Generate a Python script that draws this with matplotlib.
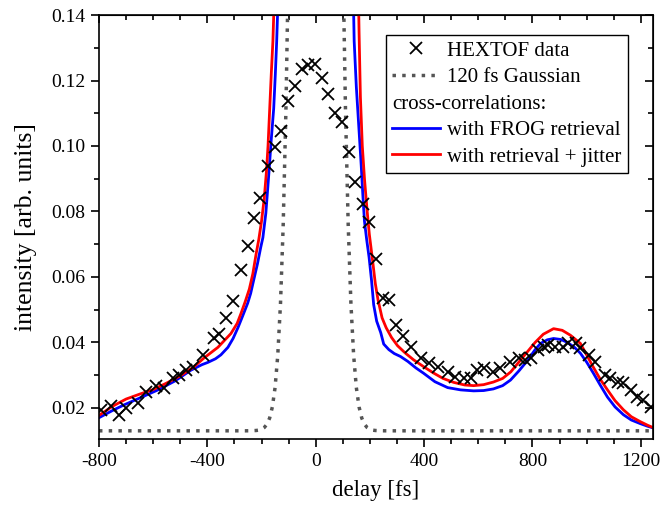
import matplotlib
matplotlib.use("Agg")
import matplotlib.pyplot as plt
from matplotlib.lines import Line2D
from matplotlib.ticker import MultipleLocator, FormatStrFormatter
import numpy as np

plt.rcParams['font.family'] = ['Liberation Serif', 'DejaVu Serif']
plt.rcParams['axes.unicode_minus'] = False

# HEXTOF measured points (delay in fs, intensity)
hextof_delay = [-793, -756, -726, -700, -656, -627, -590, -560, -527, -505, -479, -453,
                -417, -376, -358, -332, -306, -276, -251, -229, -206, -177, -152, -129,
                -104, -78, -52, -29, -4, 22, 44, 70, 96, 122, 144, 173, 196, 221, 247,
                269, 295, 321, 350, 387, 417, 450, 487, 516, 546, 572, 597, 620, 656,
                682, 719, 749, 774, 793, 819, 841, 859, 885, 911, 933, 959, 977, 1007,
                1032, 1069, 1088, 1114, 1136, 1162, 1187, 1209, 1239]
hextof_int = [0.0194, 0.0206, 0.0179, 0.0200, 0.0215, 0.0249, 0.0267, 0.0261, 0.0291,
              0.0300, 0.0315, 0.0324, 0.0361, 0.0415, 0.0427, 0.0476, 0.0525, 0.0621,
              0.0696, 0.0781, 0.0840, 0.0940, 0.0996, 0.1045, 0.1137, 0.1183, 0.1234,
              0.1246, 0.1249, 0.1207, 0.1158, 0.1100, 0.1072, 0.0981, 0.0889, 0.0824,
              0.0767, 0.0656, 0.0536, 0.0530, 0.0452, 0.0421, 0.0385, 0.0352, 0.0336,
              0.0324, 0.0309, 0.0294, 0.0291, 0.0291, 0.0315, 0.0321, 0.0309, 0.0321,
              0.0339, 0.0352, 0.0345, 0.0352, 0.0376, 0.0385, 0.0391, 0.0385, 0.0385,
              0.0397, 0.0397, 0.0382, 0.0361, 0.0339, 0.0300, 0.0291, 0.0279, 0.0276,
              0.0255, 0.0233, 0.0224, 0.0203]

# 120 fs Gaussian (dotted)
gauss_delay = [-800, -260, -240, -220, -210, -200, -190, -180, -170, -160, -150, -140,
               -130, -120, -110, -100, -90, -80, 0, 80, 90, 100, 110, 120, 130, 140,
               150, 160, 170, 180, 190, 200, 210, 220, 240, 260, 1250]
gauss_int = [0.013, 0.013, 0.01302, 0.0131, 0.01321, 0.0135, 0.0140, 0.0150, 0.0169,
             0.0203, 0.0262, 0.0361, 0.0518, 0.0758, 0.1107, 0.159, 0.2237, 0.305, 1.013,
             0.305, 0.2237, 0.159, 0.1107, 0.0758, 0.0518, 0.0361, 0.0262, 0.0203,
             0.0169, 0.0150, 0.0140, 0.0135, 0.01321, 0.0131, 0.01302, 0.013, 0.013]

# cross-correlation with FROG retrieval (blue)
frog_delay = [-800, -750, -708, -650, -582, -520, -461, -420, -398, -370, -350, -324,
              -305, -287, -270, -251, -240, -229, -215, -203, -195, -184, -173, -164,
              -155, -149, -144, -139, 0, 139, 142, 150, 156, 162, 168, 174, 180, 188,
              197, 206, 214, 225, 240, 251, 270, 290, 313, 340, 370, 398, 440, 487,
              535, 583, 620, 656, 690, 719, 750, 782, 810, 830, 855, 878, 905, 929,
              955, 977, 1000, 1025, 1050, 1077, 1105, 1136, 1165, 1198, 1225, 1245]
frog_int = [0.0170, 0.0192, 0.0209, 0.0230, 0.0255, 0.0282, 0.0315, 0.0332, 0.0339,
            0.0350, 0.0362, 0.0385, 0.0412, 0.0445, 0.0480, 0.0520, 0.0550, 0.0590,
            0.0640, 0.0690, 0.0720, 0.0795, 0.0915, 0.1020, 0.1115, 0.1220, 0.1320,
            0.145, 0.5, 0.145, 0.132, 0.118, 0.110, 0.102, 0.094, 0.085, 0.077,
            0.0715, 0.066, 0.059, 0.0515, 0.0465, 0.0430, 0.0395, 0.0378, 0.0366,
            0.0357, 0.0342, 0.0322, 0.0306, 0.0280, 0.0262, 0.0255, 0.0252, 0.0253,
            0.0258, 0.0268, 0.0285, 0.0313, 0.0345, 0.0378, 0.0397, 0.0408, 0.0412,
            0.0409, 0.0400, 0.0385, 0.0367, 0.0340, 0.0306, 0.0270, 0.0233, 0.0203,
            0.0179, 0.0163, 0.0152, 0.0144, 0.0139]

# cross-correlation with retrieval + jitter (red)
jitter_delay = [-800, -750, -700, -650, -600, -550, -500, -450, -413, -361, -313, -290,
                -276, -260, -245, -232, -220, -210, -200, -190, -182, -176, -170, -164,
                -158, -153, 0, 158, 160, 165, 172, 180, 190, 198, 210, 220, 230, 245,
                260, 280, 302, 330, 361, 400, 434, 470, 509, 550, 583, 620, 656, 690,
                720, 750, 780, 810, 840, 878, 910, 940, 977, 1000, 1025, 1050, 1077,
                1105, 1136, 1165, 1198, 1225, 1245]
jitter_int = [0.0177, 0.0205, 0.0227, 0.0242, 0.0256, 0.0276, 0.0298, 0.0325, 0.0352,
              0.0385, 0.0427, 0.0458, 0.0488, 0.0525, 0.0563, 0.0610, 0.0670, 0.0715,
              0.0770, 0.0840, 0.0920, 0.1000, 0.1110, 0.1220, 0.1320, 0.1450, 0.5,
              0.145, 0.135, 0.115, 0.100, 0.090, 0.080, 0.073, 0.065, 0.058, 0.053,
              0.0475, 0.0445, 0.0415, 0.0390, 0.0368, 0.0347, 0.0325, 0.0307, 0.0290,
              0.0278, 0.0270, 0.0268, 0.0271, 0.0279, 0.0290, 0.0310, 0.0340, 0.0370,
              0.0400, 0.0425, 0.0442, 0.0437, 0.0422, 0.0397, 0.0362, 0.0324, 0.0288,
              0.0255, 0.0222, 0.0194, 0.0173, 0.0158, 0.0147, 0.0140]

GAUSS_LS = (0, (1.0, 1.8))

fig = plt.figure(figsize=(6.62, 5.11), dpi=100)
ax = fig.add_axes([0.1495, 0.1409, 0.8369, 0.8297])

ax.plot(gauss_delay, gauss_int, color='#555555', lw=2.5, ls=GAUSS_LS)
ax.plot(frog_delay, frog_int, color='#0000ff', lw=2.0)
ax.plot(jitter_delay, jitter_int, color='#ff0000', lw=2.0)
ax.plot(hextof_delay, hextof_int, ls='none', marker='x', ms=9, mew=1.3, color='black')

ax.set_xlim(-800, 1245)
ax.set_ylim(0.0105, 0.14)
ax.xaxis.set_major_locator(MultipleLocator(400))
ax.xaxis.set_minor_locator(MultipleLocator(100))
ax.yaxis.set_major_locator(MultipleLocator(0.02))
ax.yaxis.set_minor_locator(MultipleLocator(0.01))
ax.yaxis.set_major_formatter(FormatStrFormatter('%.2f'))
ax.tick_params(which='both', direction='out', width=1.2, labelsize=14, pad=4)
ax.tick_params(which='major', length=6)
ax.tick_params(which='minor', length=3.5)
for sp in ax.spines.values():
    sp.set_linewidth(1.2)

# mirrored ticks pointing inward on top and right
top = ax.secondary_xaxis('top')
top.xaxis.set_major_locator(MultipleLocator(400))
top.xaxis.set_minor_locator(MultipleLocator(100))
top.tick_params(which='both', direction='in', width=1.2, labeltop=False)
top.tick_params(which='major', length=6)
top.tick_params(which='minor', length=3.5)
right = ax.secondary_yaxis('right')
right.yaxis.set_major_locator(MultipleLocator(0.02))
right.yaxis.set_minor_locator(MultipleLocator(0.01))
right.tick_params(which='both', direction='in', width=1.2, labelright=False)
right.tick_params(which='major', length=6)
right.tick_params(which='minor', length=3.5)

ax.set_xlabel('delay [fs]', fontsize=16.5, labelpad=7)
ax.set_ylabel('intensity [arb. units]', fontsize=18.5, labelpad=10)

h_data = Line2D([], [], ls='none', marker='x', ms=9, mew=1.3, color='black')
h_gauss = Line2D([], [], color='#555555', lw=2.5, ls=GAUSS_LS)
h_blank = Line2D([], [], ls='none')
h_frog = Line2D([], [], color='#0000ff', lw=2.0)
h_jit = Line2D([], [], color='#ff0000', lw=2.0)
leg = ax.legend([h_data, h_gauss, h_blank, h_frog, h_jit],
                ['HEXTOF data', '120 fs Gaussian', ' ',
                 'with FROG retrieval', 'with retrieval + jitter'],
                loc='upper right', bbox_to_anchor=(0.955, 0.953), fontsize=15,
                frameon=True, fancybox=False, framealpha=1, edgecolor='black',
                handlelength=2.3, handletextpad=0.35, labelspacing=0.33,
                borderpad=0.3, borderaxespad=0)
leg.get_frame().set_linewidth(1.0)

# "cross-correlations:" starts at the handle column, like a heading
fig.canvas.draw()
r = fig.canvas.get_renderer()
tb = leg.get_texts()[2].get_window_extent(r)
hb = leg.legend_handles[3].get_window_extent(r)
inv = fig.transFigure.inverted()
x0, yc = inv.transform((hb.x0, (tb.y0 + tb.y1) / 2))
fig.text(x0, yc, 'cross-correlations:', fontsize=15, ha='left', va='center')

fig.savefig('out.png', dpi=100)
